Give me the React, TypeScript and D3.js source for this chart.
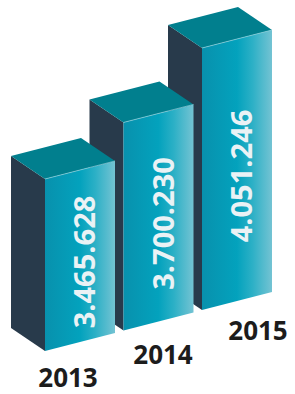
import React from "react";
import * as d3 from "d3";

const years = ["2013", "2014", "2015"];
const values = [3465628, 3700230, 4051246];

const W = 295;
const H = 394;

const fmt = d3.formatLocale({
  decimal: ",",
  thousands: ".",
  grouping: [3],
  currency: ["", ""],
}).format(",");

// layout scales (index -> position)
const idx = d3.range(years.length);
const xFront = d3.scaleLinear().domain([0, 2]).range([45, 202]);
const yBase = d3.scaleLinear().domain([0, 2]).range([351, 310]);
const hScale = d3.scaleLinear().domain([3465628, 4051246]).range([172, 262]);
const xLabel = d3.scaleLinear().domain([0, 2]).range([68, 258]);
const yLabel = d3.scaleLinear().domain([0, 2]).range([387, 340]);

const FW = 70; // front width
const FS = -18; // front slope
const DX = -34; // depth dx
const DY = -23; // depth dy

const poly = (pts: [number, number][]) => {
  const p = d3.path();
  pts.forEach(([x, y], i) => (i ? p.lineTo(x, y) : p.moveTo(x, y)));
  p.closePath();
  return p.toString();
};

export default function App() {
  const order = [...idx].reverse();
  return (
    <svg
      width={W}
      height={H}
      style={{ position: "absolute", left: 0, top: 0, background: "#fff" }}
    >
      <defs>
        <linearGradient id="front" x1="0" x2="1" y1="0" y2="0">
          <stop offset="0" stopColor="#0891ad" />
          <stop offset="0.5" stopColor="#03a2bd" />
          <stop offset="0.72" stopColor="#2cb0c6" />
          <stop offset="1" stopColor="#74c3d3" />
        </linearGradient>
      </defs>
      {order.map((i) => {
        const fx = xFront(i);
        const fy = yBase(i);
        const h = hScale(values[i]);
        const front = poly([
          [fx, fy],
          [fx + FW, fy + FS],
          [fx + FW, fy + FS - h],
          [fx, fy - h],
        ]);
        const left = poly([
          [fx, fy],
          [fx + DX, fy + DY],
          [fx + DX, fy + DY - h],
          [fx, fy - h],
        ]);
        const top = poly([
          [fx, fy - h],
          [fx + FW, fy + FS - h],
          [fx + FW + DX, fy + FS + DY - h],
          [fx + DX, fy + DY - h],
        ]);
        const cy = fy + FS / 2 - h / 2 + 6;
        return (
          <g key={years[i]}>
            <path d={left} fill="#283a4b" />
            <path d={front} fill="url(#front)" />
            <path d={top} fill="#017f8e" />
            <path
              d={`M${fx},${fy - h}L${fx + FW},${fy + FS - h}`}
              stroke="#8fd3df"
              strokeWidth={0.7}
              fill="none"
            />
            <text
              transform={`translate(${fx + 50},${cy}) rotate(-90)`}
              textAnchor="middle"
              fontFamily="'Open Sans', sans-serif"
              fontWeight={700}
              fontSize={29}
              fill="#eaf2f5"
            >
              {fmt(values[i])}
            </text>
          </g>
        );
      })}
      {idx.map((i) => (
        <text
          key={"l" + years[i]}
          x={xLabel(i)}
          y={yLabel(i)}
          textAnchor="middle"
          fontFamily="'Open Sans', sans-serif"
          fontWeight={700}
          fontSize={26}
          fill="#1c1c1c"
        >
          {years[i]}
        </text>
      ))}
    </svg>
  );
}
